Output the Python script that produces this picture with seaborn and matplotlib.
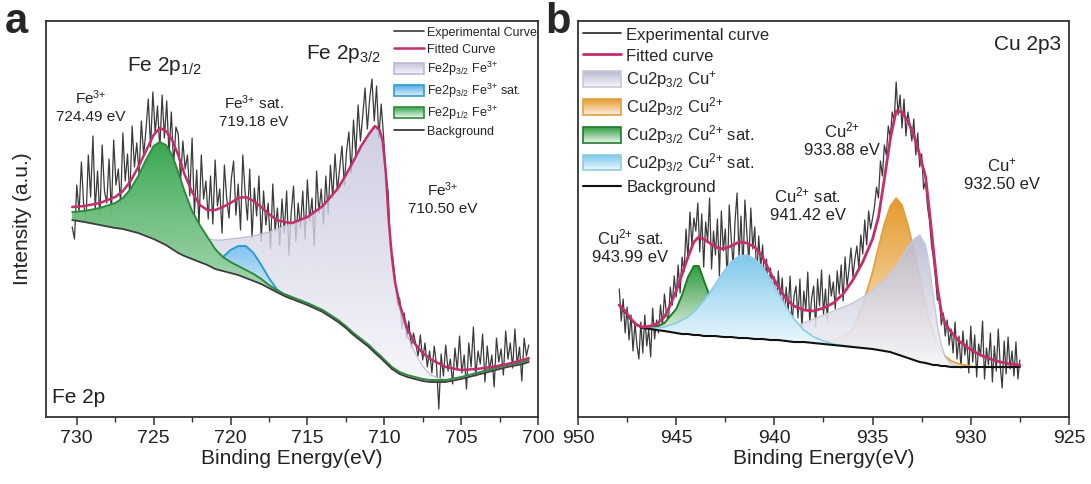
import numpy as np
import pandas as pd
import matplotlib
matplotlib.use("Agg")
import matplotlib.pyplot as plt
import seaborn as sns
from matplotlib.legend_handler import HandlerBase
from matplotlib.lines import Line2D
from matplotlib.patches import Rectangle
from matplotlib.colors import to_rgb
from matplotlib.ticker import MultipleLocator

# ---------------- Panel a : Fe 2p ----------------
fe_energy = [730.3, 729.5, 728.5, 727.5, 727.0, 726.5, 726.0, 725.5, 725.0, 724.6,
             724.2, 723.8, 723.4, 723.0, 722.5, 722.0, 721.5, 721.0, 720.5, 720.0,
             719.5, 719.0, 718.5, 718.0, 717.5, 717.0, 716.5, 716.0, 715.0, 714.0,
             713.0, 712.5, 712.0, 711.5, 711.0, 710.6, 710.3, 710.1, 709.9, 709.7,
             709.5, 709.3, 709.0, 708.5, 708.0, 707.5, 707.0, 706.0, 705.0, 704.0,
             703.0, 702.0, 701.0, 700.6]
fe_background = [197, 195, 192, 189, 188, 186, 184, 181, 178, 175,
                 172, 168, 164, 161, 158, 155, 152, 148, 146, 144,
                 142, 139, 136, 133, 129, 125, 121, 118, 112, 105,
                 95, 89, 82, 76, 70, 64, 60, 57, 54, 51,
                 48, 46, 43, 40, 38, 36, 35, 35, 38, 42,
                 46, 50, 53, 55]
fe_fitted = [210, 211, 214, 220, 226, 236, 250, 266, 282, 289,
             286, 277, 262, 243, 225, 212, 207, 207, 210, 214,
             219, 220, 216, 210, 203, 197, 195, 194, 200, 211,
             229, 242, 256, 271, 283, 291, 287, 276, 245, 195,
             160, 135, 113, 88, 73, 64, 58, 50, 47, 48,
             50, 53, 57, 59]
fe_2p12_fe3 = [205, 206, 209, 214, 219, 228, 241, 257, 271, 275,
               272, 262, 245, 226, 206, 192, 180, 168, 160, 155,
               151, 147, 143, 138, 132, 127, 123, 120, 114, 107,
               97, 91, 84, 78, 72, 66, 62, 59, 56, 53,
               50, 48, 45, 42, 40, 38, 37, 37, 40, 44,
               48, 52, 55, 57]
fe_2p32_sat = [197, 195, 192, 189, 188, 186, 184, 181, 178, 175,
               172, 168, 164, 161, 158, 155, 153, 155, 160, 167,
               171, 171, 164, 152, 139, 128, 122, 118, 112, 105,
               95, 89, 82, 76, 70, 64, 60, 57, 54, 51,
               48, 46, 43, 40, 38, 36, 35, 35, 38, 42,
               46, 50, 53, 55]
fe_2p32_fe3 = [203, 201, 199, 197, 196, 195, 194, 193, 191, 190,
               189, 187, 186, 184, 182, 180, 178, 177, 177, 178,
               179, 180, 181, 183, 185, 188, 191, 193, 199, 210,
               228, 241, 255, 270, 282, 290, 286, 275, 244, 194,
               158, 132, 108, 82, 64, 51, 42, 37, 39, 43,
               47, 51, 54, 56]
fe_exp_start = 730.3
fe_exp_step = 0.15
fe_experimental = [
    190, 178, 232, 205, 255, 212, 196, 262, 220, 281,
    208, 246, 199, 272, 226, 214, 258, 203, 277, 232,
    248, 212, 284, 236, 263, 219, 291, 250, 274, 243,
    296, 262, 287, 318, 270, 325, 284, 311, 268, 322,
    279, 316, 262, 305, 251, 290, 283, 236, 276, 248,
    262, 221, 279, 203, 247, 191, 262, 218, 236, 198,
    241, 193, 257, 211, 228, 184, 252, 219, 199, 238,
    256, 202, 233, 187, 262, 224, 197, 248, 179, 229,
    201, 241, 176, 226, 192, 214, 168, 233, 186, 209,
    172, 218, 184, 226, 162, 205, 231, 176, 214, 189,
    226, 178, 237, 196, 219, 171, 246, 204, 228, 193,
    241, 203, 252, 219, 263, 226, 248, 271, 232, 266,
    285, 244, 297, 262, 312, 276, 301, 329, 288, 318,
    338, 296, 331, 279, 313, 282, 243, 226, 168, 160,
    138, 112, 119, 88, 104, 78, 96, 69, 84, 73,
    61, 82, 57, 74, 50, 66, 44, 71, 52, 8,
    63, 41, 72, 46, 58, 33, 69, 47, 81, 44,
    62, 28, 74, 50, 90, 41, 66, 53, 83, 35,
    71, 47, 62, 30, 79, 55, 68, 42, 86, 58,
    74, 49, 88, 52, 70, 36, 79, 61, 72]

# ---------------- Panel b : Cu 2p3 ----------------
cu_energy = [947.9, 947.6, 947.3, 947.0, 946.7, 946.3, 946.0, 945.6, 945.3, 945.0,
             944.7, 944.4, 944.1, 943.85, 943.6, 943.3, 943.0, 942.6, 942.2, 941.8,
             941.4, 941.0, 940.6, 940.2, 939.8, 939.4, 939.0, 938.5, 938.0, 937.5,
             937.0, 936.5, 936.0, 935.5, 935.0, 934.7, 934.4, 934.1, 933.8, 933.5,
             933.2, 932.9, 932.6, 932.3, 932.1, 931.9, 931.7, 931.5, 931.3, 931.0,
             930.6, 930.2, 929.8, 929.4, 929.0, 928.5, 928.0, 927.5]
cu_background = [112, 105, 97, 92, 89, 88, 87, 86, 85, 84,
                 83, 83, 82, 82, 81, 81, 81, 80, 80, 79,
                 79, 78, 78, 77, 77, 76, 75, 75, 74, 73,
                 72, 71, 70, 69, 68, 67, 66, 65, 63, 61,
                 59, 57, 55, 54, 53, 52, 52, 51, 51, 50,
                 50, 50, 50, 50, 50, 50, 50, 50]
cu_fitted = [112, 106, 98, 92, 90, 91, 93, 100, 112, 126,
             143, 160, 175, 180, 178, 174, 170, 168, 171, 175,
             174, 170, 160, 144, 130, 118, 111, 107, 106, 109,
             114, 123, 137, 155, 178, 200, 238, 278, 306, 305,
             296, 282, 262, 240, 205, 167, 130, 105, 93, 85,
             76, 70, 65, 61, 58, 55, 53, 52]
cu_sat_944 = [112, 105, 97, 92, 89, 89, 90, 94, 101, 108,
              122, 140, 151, 151, 137, 121, 106, 92, 85, 81,
              79, 78, 78, 77, 77, 76, 75, 75, 74, 73,
              72, 71, 70, 69, 68, 67, 66, 65, 63, 61,
              59, 57, 55, 54, 53, 52, 52, 51, 51, 50,
              50, 50, 50, 50, 50, 50, 50, 50]
cu_sat_941 = [112, 105, 97, 92, 89, 89, 89, 90, 92, 94,
              97, 100, 105, 110, 116, 124, 133, 145, 155, 161,
              162, 158, 150, 138, 124, 110, 98, 87, 80, 76,
              73, 71.5, 70, 69, 68, 67, 66, 65, 63, 61,
              59, 57, 55, 54, 53, 52, 52, 51, 51, 50,
              50, 50, 50, 50, 50, 50, 50, 50]
cu_cu2 = [112, 105, 97, 92, 89, 88, 87, 86, 85, 84,
          83, 83, 82, 82, 81, 81, 81, 80, 80, 79,
          79, 78, 78, 77, 77, 76, 75, 75, 76, 76,
          77, 80, 88, 112, 145, 170, 193, 211, 219, 212,
          192, 167, 140, 112, 96, 83, 73, 66, 61, 56,
          53, 51.5, 50, 50, 50, 50, 50, 50]
cu_cu1 = [112, 105, 97, 92, 89, 88, 87, 86, 85, 84,
          83, 83, 82, 82, 81, 81, 81.5, 81, 81, 80.5,
          80, 80, 81, 82, 84, 87, 90, 94, 98, 102,
          106, 110, 114, 120, 127, 132, 137, 144, 151, 160,
          170, 178, 182, 172, 150, 120, 92, 72, 60, 53,
          50.5, 50, 50, 50, 50, 50, 50, 50]
cu_exp_start = 947.9
cu_exp_step = 0.1
cu_experimental = [
    128, 96, 118, 84, 110, 77, 102, 66, 94, 72,
    58, 95, 64, 102, 71, 88, 60, 109, 78, 97,
    84, 112, 91, 123, 104, 95, 130, 112, 141, 120,
    152, 124, 160, 145, 188, 158, 205, 172, 199, 186,
    214, 165, 203, 150, 195, 176, 219, 148, 186, 162,
    198, 141, 206, 166, 188, 135, 212, 179, 151, 197,
    224, 160, 201, 146, 217, 183, 156, 209, 168, 190,
    138, 181, 150, 172, 129, 158, 121, 149, 113, 140,
    104, 146, 118, 139, 97, 130, 106, 141, 92, 121,
    131, 99, 138, 88, 126, 107, 145, 94, 119, 131,
    90, 138, 111, 147, 102, 128, 96, 142, 121, 135,
    108, 146, 123, 152, 116, 160, 131, 148, 169, 140,
    158, 171, 149, 182, 163, 197, 172, 206, 188, 199,
    211, 230, 219, 256, 241, 272, 262, 291, 279, 305,
    296, 335, 302, 322, 289, 318, 281, 305, 292, 276,
    298, 262, 284, 250, 263, 228, 236, 210, 196, 172,
    158, 140, 117, 121, 92, 104, 81, 97, 72, 88,
    64, 95, 58, 81, 49, 86, 62, 77, 44, 91,
    55, 82, 40, 73, 61, 96, 38, 69, 52, 84,
    35, 71, 46, 88, 51, 29, 76, 43, 80, 48,
    66, 41, 75, 38, 57]

# ---------------- style ----------------
sns.set_theme(style="ticks")
plt.rcParams["font.family"] = ["Liberation Sans", "DejaVu Sans"]
plt.rcParams["mathtext.default"] = "regular"

FIT = "#c42e6c"


def mix(bottom, top, t):
    b = np.array(to_rgb(bottom)); c = np.array(to_rgb(top))
    return tuple(b * (1 - t) + c * t)


def gradient_fill(ax, x, low, high, top_color, bottom_color, zorder, alpha=1.0):
    x = np.asarray(x, float); low = np.asarray(low, float); high = np.asarray(high, float)
    poly = ax.fill_between(x, low, high, facecolor="none", edgecolor="none", lw=0)
    path = poly.get_paths()[0]
    n = 256
    t = np.linspace(0, 1, n)[:, None]
    img = np.zeros((n, 1, 4))
    img[:, 0, :3] = np.array(to_rgb(bottom_color)) * (1 - t) + np.array(to_rgb(top_color)) * t
    img[:, 0, 3] = alpha
    mask = high - low > 0.3
    ymin = low[mask].min() if mask.any() else low.min()
    ymax = high.max()
    im = ax.imshow(img, extent=[x.min(), x.max(), ymin, ymax], origin="lower",
                   aspect="auto", zorder=zorder, interpolation="bilinear")
    im.set_clip_path(path, transform=ax.transData)


def edge(ax, x, top, base, color, lw, zorder, masked=True):
    x = np.asarray(x, float); top = np.asarray(top, float); base = np.asarray(base, float)
    if masked:
        m = (top - base) > 0.3
        m = m | np.r_[m[1:], False] | np.r_[False, m[:-1]]
        y = np.where(m, top, np.nan)
    else:
        y = top
    ax.plot(x, y, color=color, lw=lw, zorder=zorder, solid_capstyle="round")


class GradHandle:
    def __init__(self, top, bottom, edge):
        self.top, self.bottom, self.edge = top, bottom, edge


class HandlerGradient(HandlerBase):
    def create_artists(self, legend, orig_handle, xdescent, ydescent, width, height, fontsize, trans):
        arts = []
        n = 16
        for i in range(n):
            t = (i + 0.5) / n
            arts.append(Rectangle((-xdescent, -ydescent + height * i / n), width, height / n + 0.05,
                                  facecolor=mix(orig_handle.bottom, orig_handle.top, t),
                                  edgecolor="none", transform=trans))
        arts.append(Rectangle((-xdescent, -ydescent), width, height, facecolor="none",
                              edgecolor=orig_handle.edge, lw=1.2, transform=trans))
        return arts


def style_axis(ax, xlim):
    ax.set_xlim(*xlim)
    ax.set_ylim(0, 396)
    ax.set_yticks([])
    ax.xaxis.set_major_locator(MultipleLocator(5))
    ax.xaxis.set_minor_locator(MultipleLocator(2.5))
    ax.tick_params(axis="x", which="major", direction="out", length=6, width=1.1,
                   labelsize=14, color="#333333", labelcolor="#222222", pad=3)
    ax.tick_params(axis="x", which="minor", direction="out", length=3.5, width=1.0, color="#333333")
    for sp in ax.spines.values():
        sp.set_linewidth(1.3)
        sp.set_color("#333333")
    ax.set_xlabel("Binding Energy(eV)", fontsize=15, labelpad=2, color="#222222")
    ax.set_facecolor("white")


fig = plt.figure(figsize=(10.91, 4.84), dpi=100)
ax_a = fig.add_axes([0.0422, 0.1384, 0.4509, 0.8182])
ax_b = fig.add_axes([0.5298, 0.1384, 0.4500, 0.8182])

# ---- panel a ----
fe_exp_e = fe_exp_start - fe_exp_step * np.arange(len(fe_experimental))
df_a = pd.DataFrame({"E": fe_exp_e, "I": fe_experimental})
sns.lineplot(data=df_a, x="E", y="I", ax=ax_a, color="#3a3a3a", lw=0.9, zorder=1,
             estimator=None, sort=False)

lav_a = ("#c3c3dc", "#f4f4fa", "#b9b9d3")
blue_a = ("#52aee8", "#dcecf8", "#2b9cd8")
green_a = ("#34a54c", "#eef7ef", "#2e8b3e")

gradient_fill(ax_a, fe_energy, fe_background, fe_2p32_fe3, lav_a[0], lav_a[1], 2, alpha=0.8)
edge(ax_a, fe_energy, fe_2p32_fe3, fe_background, lav_a[2], 0.8, 2.1)
gradient_fill(ax_a, fe_energy, fe_background, fe_2p32_sat, blue_a[0], blue_a[1], 3)
edge(ax_a, fe_energy, fe_2p32_sat, fe_background, blue_a[2], 1.4, 3.1)
gradient_fill(ax_a, fe_energy, fe_background, fe_2p12_fe3, green_a[0], green_a[1], 4, alpha=0.97)
edge(ax_a, fe_energy, fe_2p12_fe3, fe_background, green_a[2], 1.4, 4.1, masked=False)
sns.lineplot(x=fe_energy, y=fe_background, ax=ax_a, color="#3c3c3c", lw=1.3, zorder=5,
             estimator=None, sort=False)
sns.lineplot(x=fe_energy, y=fe_fitted, ax=ax_a, color=FIT, lw=1.8, zorder=6,
             estimator=None, sort=False)

style_axis(ax_a, (732, 700))
ax_a.set_ylabel("Intensity (a.u.)", fontsize=15, labelpad=10, color="#222222")

ann = dict(ha="center", va="center", color="#222222", linespacing=1.25)
ax_a.text(724.27, 351, "Fe 2p$_{1/2}$", fontsize=15, **ann)
ax_a.text(712.64, 363, "Fe 2p$_{3/2}$", fontsize=15, **ann)
ax_a.text(729.08, 311, "Fe$^{3{+}}$\n724.49 eV", fontsize=11, **ann)
ax_a.text(718.48, 306, "Fe$^{3{+}}$ sat.\n719.18 eV", fontsize=11, **ann)
ax_a.text(706.2, 219, "Fe$^{3{+}}$\n710.50 eV", fontsize=11, **ann)
ax_a.text(0.012, 0.05, "Fe 2p", transform=ax_a.transAxes, fontsize=15, ha="left",
          va="center", color="#222222")

handles_a = [Line2D([], [], color="#3a3a3a", lw=1.2),
             Line2D([], [], color=FIT, lw=1.8),
             GradHandle(*lav_a), GradHandle(*blue_a), GradHandle(*green_a),
             Line2D([], [], color="#3c3c3c", lw=1.3)]
labels_a = ["Experimental Curve", "Fitted Curve", "Fe2p$_{3/2}$ Fe$^{3{+}}$",
            "Fe2p$_{3/2}$ Fe$^{3{+}}$ sat.", "Fe2p$_{1/2}$ Fe$^{3{+}}$", "Background"]
ax_a.legend(handles_a, labels_a, handler_map={GradHandle: HandlerGradient()},
            loc="upper right", bbox_to_anchor=(1.01, 1.0), frameon=False, fontsize=9,
            handlelength=2.4, handleheight=0.95, labelspacing=0.3, handletextpad=0.25,
            borderaxespad=0.1, borderpad=0.35)

# ---- panel b ----
cu_exp_e = cu_exp_start - cu_exp_step * np.arange(len(cu_experimental))
df_b = pd.DataFrame({"E": cu_exp_e, "I": cu_experimental})
sns.lineplot(data=df_b, x="E", y="I", ax=ax_b, color="#3a3a3a", lw=0.9, zorder=1,
             estimator=None, sort=False)

lav_b = ("#b9b9d2", "#f7f7fb", "#c8c8da")
orange_b = ("#e49a2c", "#fcefe2", "#e0a040")
green_b = ("#2e9b3e", "#eef6ee", "#1f7a2a")
blue_b = ("#7ec8ec", "#eef8fd", "#8dcbe6")

gradient_fill(ax_b, cu_energy, cu_background, cu_cu2, orange_b[0], orange_b[1], 2)
edge(ax_b, cu_energy, cu_cu2, cu_background, orange_b[2], 1.2, 2.1)
gradient_fill(ax_b, cu_energy, cu_background, cu_cu1, lav_b[0], lav_b[1], 3, alpha=0.88)
edge(ax_b, cu_energy, cu_cu1, cu_background, lav_b[2], 1.0, 3.1)
gradient_fill(ax_b, cu_energy, cu_background, cu_sat_944, green_b[0], green_b[1], 4)
edge(ax_b, cu_energy, cu_sat_944, cu_background, green_b[2], 1.4, 4.1)
gradient_fill(ax_b, cu_energy, cu_background, cu_sat_941, blue_b[0], blue_b[1], 5)
edge(ax_b, cu_energy, cu_sat_941, cu_background, blue_b[2], 1.2, 5.1)
sns.lineplot(x=cu_energy, y=cu_background, ax=ax_b, color="#111111", lw=1.5, zorder=6,
             estimator=None, sort=False)
sns.lineplot(x=cu_energy, y=cu_fitted, ax=ax_b, color=FIT, lw=2.0, zorder=7,
             estimator=None, sort=False)

style_axis(ax_b, (950, 925))
ax_b.set_ylabel("")

ax_b.text(0.984, 0.94, "Cu 2p3", transform=ax_b.transAxes, fontsize=15, ha="right",
          va="center", color="#222222")
ax_b.text(936.56, 278, "Cu$^{2{+}}$\n933.88 eV", fontsize=12, **ann)
ax_b.text(928.41, 243, "Cu$^{+}$\n932.50 eV", fontsize=12, **ann)
ax_b.text(938.29, 213, "Cu$^{2{+}}$ sat.\n941.42 eV", fontsize=12, **ann)
ax_b.text(947.35, 171, "Cu$^{2{+}}$ sat.\n943.99 eV", fontsize=12, **ann)

handles_b = [Line2D([], [], color="#222222", lw=1.2),
             Line2D([], [], color=FIT, lw=2.0),
             GradHandle(*lav_b), GradHandle(*orange_b), GradHandle(*green_b),
             GradHandle(*blue_b), Line2D([], [], color="#111111", lw=1.5)]
labels_b = ["Experimental curve", "Fitted curve", "Cu2p$_{3/2}$ Cu$^{+}$",
            "Cu2p$_{3/2}$ Cu$^{2{+}}$", "Cu2p$_{3/2}$ Cu$^{2{+}}$ sat.",
            "Cu2p$_{3/2}$ Cu$^{2{+}}$ sat.", "Background"]
ax_b.legend(handles_b, labels_b, handler_map={GradHandle: HandlerGradient()},
            loc="upper left", bbox_to_anchor=(0.0, 1.0), frameon=False, fontsize=12,
            handlelength=2.3, handleheight=1.08, labelspacing=0.3, handletextpad=0.3,
            borderaxespad=0.1, borderpad=0.2)

fig.text(0.0046, 0.932, "a", fontsize=30, fontweight="bold", ha="left", va="baseline")
fig.text(0.4995, 0.932, "b", fontsize=30, fontweight="bold", ha="left", va="baseline")

fig.savefig("out.png", dpi=100, facecolor="white")
